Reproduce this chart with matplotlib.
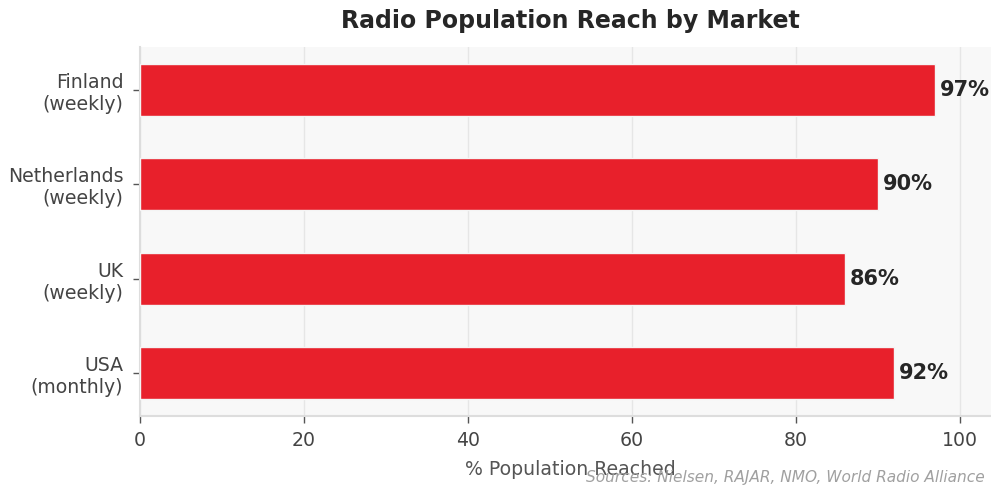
import matplotlib
matplotlib.use('Agg')
import matplotlib.pyplot as plt

plt.rcParams['font.family'] = ['DejaVu Sans']

markets = ['USA\n(monthly)', 'UK\n(weekly)', 'Netherlands\n(weekly)', 'Finland\n(weekly)']
reach = [92, 86, 90, 97]
source = 'Sources: Nielsen, RAJAR, NMO, World Radio Alliance'

fig = plt.figure(figsize=(9.91, 4.88), dpi=100)
ax = fig.add_axes([140 / 991, 72 / 488, 861 / 991, 369 / 488])
ax.set_facecolor('#f8f8f8')

bars = ax.barh(markets, reach, height=0.55, color='#e8202b', edgecolor='#f4f4f4', linewidth=1, zorder=3)
for bar, val in zip(bars, reach):
    ax.text(val + 0.6, bar.get_y() + bar.get_height() / 2, f'{val}%',
            va='center', ha='left', fontsize=15, fontweight='bold', color='#262626', zorder=4)

ax.set_xlim(0, 105)
ax.set_xticks([0, 20, 40, 60, 80, 100])
ax.grid(axis='x', color='#e6e6e6', linewidth=1, zorder=0)
ax.set_axisbelow(True)

for s in ['top', 'right']:
    ax.spines[s].set_visible(False)
for s in ['left', 'bottom']:
    ax.spines[s].set_color('#dddddd')
    ax.spines[s].set_linewidth(1.5)

ax.tick_params(axis='both', labelsize=13.6, labelcolor='#444444', color='#555555', length=5, width=1)
ax.tick_params(axis='y', pad=7)
ax.tick_params(axis='x', pad=6)

ax.set_xlabel('% Population Reached', fontsize=13.6, color='#555555', labelpad=7)
fig.suptitle('Radio Population Reach by Market', x=570 / 991, y=1 - 9 / 488, fontsize=17,
             fontweight='bold', color='#262626', va='top')
fig.text(985 / 991, 3 / 488, source, ha='right', va='bottom', fontsize=11.1,
         style='italic', color='#a0a0a0')

fig.savefig('out.png', dpi=100)
